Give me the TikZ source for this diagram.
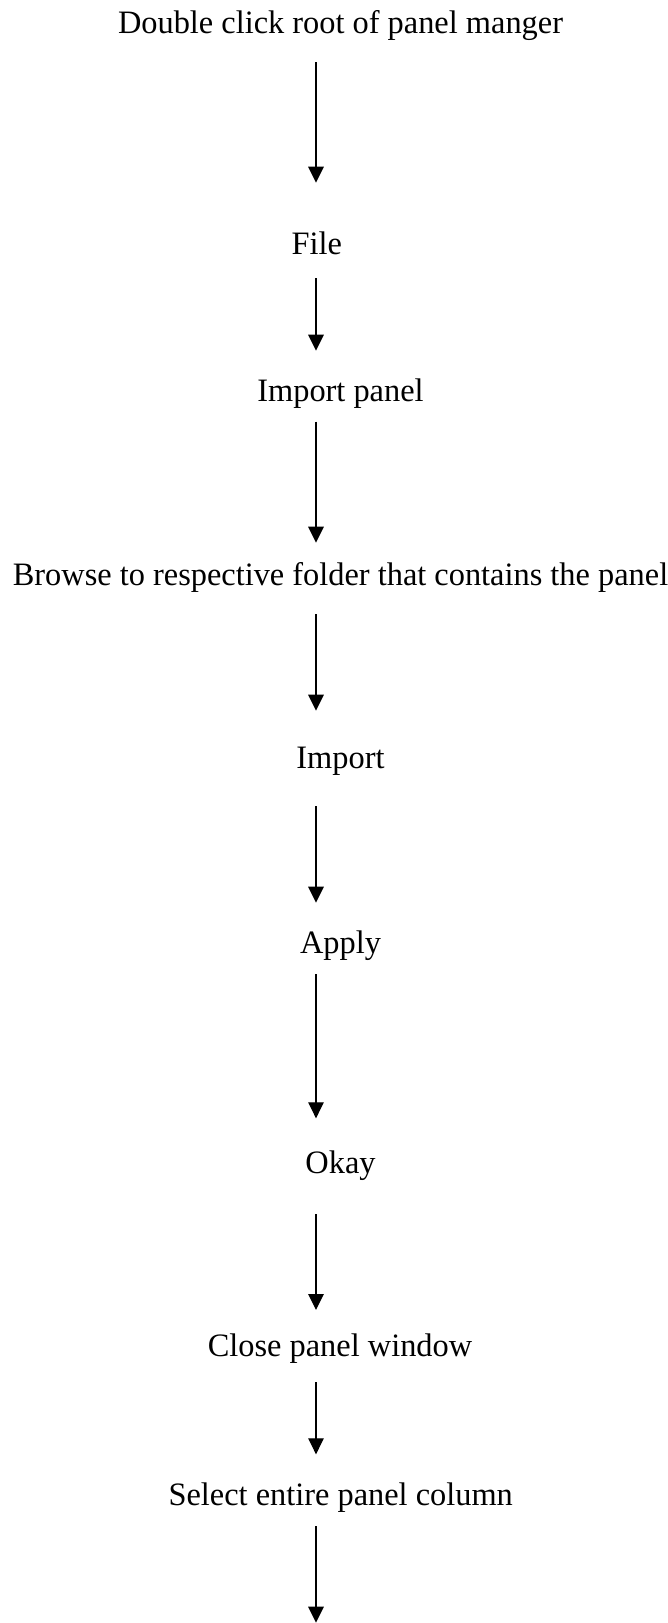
\documentclass[tikz,border=0pt]{standalone}
\usepackage{fontspec}
\setmainfont{Liberation Serif}
\usetikzlibrary{arrows.meta}
\newcommand{\narrowtxt}[1]{\scalebox{0.99}[1]{#1}}
\begin{document}
\begin{tikzpicture}[x=1pt,y=1pt,
  lbl/.style={anchor=base,inner sep=0pt,font=\fontsize{32.7}{36}\selectfont},
  arr/.style={line width=1.3pt,-{Triangle[length=16pt,width=15.5pt]}}]
\useasboundingbox (0,0) rectangle (668,-1623);
\node[lbl] (t1) at (340.5,-33.3) {\narrowtxt{Double click root of panel manger}};
\node[lbl] (t2) at (316.7,-254.3) {\narrowtxt{File}};
\node[lbl] (t3) at (340.5,-401.7) {\narrowtxt{Import panel}};
\node[lbl] (t4) at (340.5,-585) {\narrowtxt{Browse to respective folder that contains the panel}};
\node[lbl] (t5) at (340.5,-768.3) {\narrowtxt{Import}};
\node[lbl] (t6) at (340.5,-953.3) {\narrowtxt{Apply}};
\node[lbl] (t7) at (340.5,-1173.3) {\narrowtxt{Okay}};
\node[lbl] (t8) at (340,-1356.7) {\narrowtxt{Close panel window}};
\node[lbl] (t9) at (340.7,-1505) {\narrowtxt{Select entire panel column}};
\coordinate (s1) at (316,-62.3);   \coordinate (e1) at (316,-182.7);
\coordinate (s2) at (316,-278.3);  \coordinate (e2) at (316,-350.7);
\coordinate (s3) at (316,-421.7);  \coordinate (e3) at (316,-542.7);
\coordinate (s4) at (316,-614);    \coordinate (e4) at (316,-710.7);
\coordinate (s5) at (316,-806);    \coordinate (e5) at (316,-902.7);
\coordinate (s6) at (316,-974);    \coordinate (e6) at (316,-1118.3);
\coordinate (s7) at (316,-1214);   \coordinate (e7) at (316,-1310);
\coordinate (s8) at (316,-1382);   \coordinate (e8) at (316,-1454.3);
\coordinate (s9) at (316,-1526);   \coordinate (e9) at (316,-1622.7);
\foreach \i in {1,...,9}{\draw[arr] (s\i) -- (e\i);}
\end{tikzpicture}
\end{document}
